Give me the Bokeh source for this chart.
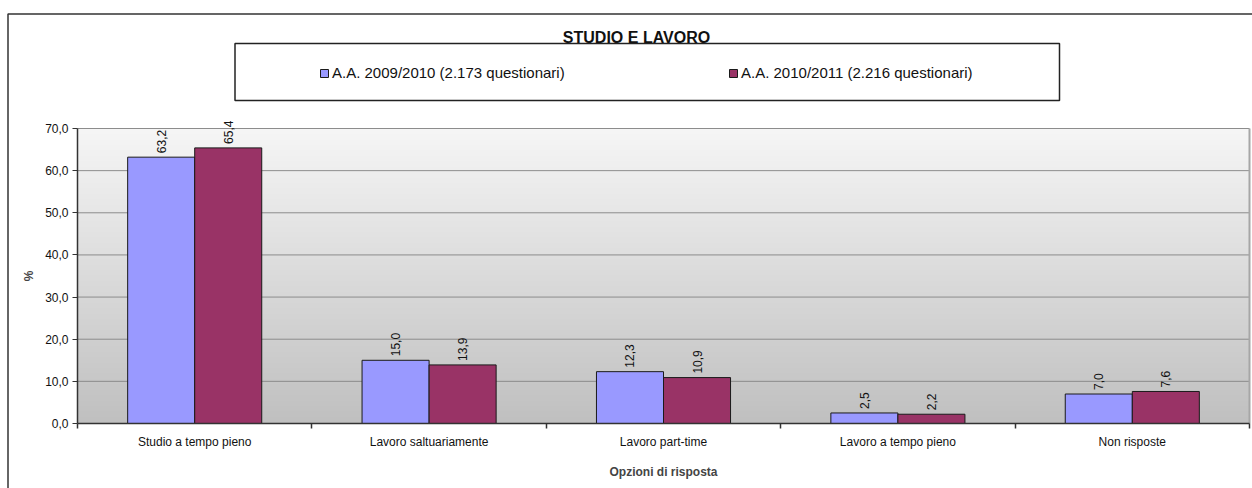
import numpy as np
from bokeh.plotting import figure
from bokeh.models import (ColumnDataSource, FixedTicker, LabelSet, Label, Legend,
                          LegendItem, BoxAnnotation, Range1d)
from bokeh.embed import file_html
from bokeh.resources import INLINE
from bokeh.core.properties import value

categories = ["Studio a tempo pieno", "Lavoro saltuariamente", "Lavoro part-time",
              "Lavoro a tempo pieno", "Non risposte"]
series_names = ["A.A. 2009/2010 (2.173 questionari)", "A.A. 2010/2011 (2.216 questionari)"]
values_2009 = [63.2, 15.0, 12.3, 2.5, 7.0]
values_2010 = [65.4, 13.9, 10.9, 2.2, 7.6]
y_ticks = [0, 10, 20, 30, 40, 50, 60, 70]
title_text = "STUDIO E LAVORO"
x_title = "Opzioni di risposta"
y_title = "%"

FONT = "Liberation Sans"
W, H = 1252, 488
BAR_W = 0.286
# plot-area placement on the canvas (pixels)
PX_LEFT, PX_RIGHT, PX_TOP, PX_BOTTOM = 77, 1249, 128, 423
N = len(categories)
Y_MAX = y_ticks[-1]
sx = (PX_RIGHT - PX_LEFT) / N
sy = (PX_BOTTOM - PX_TOP) / Y_MAX

def fmt(v):
    return f"{v:.1f}".replace(".", ",")

p = figure(width=W, height=H, output_backend="svg", toolbar_location=None,
           x_range=Range1d(-PX_LEFT / sx, (W - PX_LEFT) / sx),
           y_range=Range1d(-(H - PX_BOTTOM) / sy, PX_BOTTOM / sy),
           min_border=0)
p.border_fill_color = "white"
p.background_fill_color = "white"
p.outline_line_color = None
p.xgrid.visible = False
p.ygrid.visible = False

# gradient background of plot area
n = 256
t = np.linspace(0, 1, n)[:, None]
bottom_c = np.array([192, 192, 192])
top_c = np.array([246, 246, 246])
cols = (bottom_c + (top_c - bottom_c) * t).astype(np.uint8)
img = np.empty((n, 1), dtype=np.uint32)
view = img.view(dtype=np.uint8).reshape((n, 1, 4))
view[:, 0, 0] = cols[:, 0]
view[:, 0, 1] = cols[:, 1]
view[:, 0, 2] = cols[:, 2]
view[:, 0, 3] = 255
p.image_rgba(image=[img], x=0, y=0, dw=N, dh=Y_MAX, level="image")

# grid lines and plot-area border
gl = y_ticks[1:]
p.segment(x0=[0] * len(gl), x1=[N] * len(gl), y0=gl, y1=gl,
          line_color="#8c8c8c", line_width=1)
p.segment(x0=[N], x1=[N], y0=[0], y1=[Y_MAX], line_color="#a6a6a6", line_width=2)

centers = [i + 0.5 for i in range(N)]
src1 = ColumnDataSource(dict(x=[c - BAR_W / 2 for c in centers], top=values_2009,
                             label=[fmt(v) for v in values_2009]))
src2 = ColumnDataSource(dict(x=[c + BAR_W / 2 for c in centers], top=values_2010,
                             label=[fmt(v) for v in values_2010]))
r1 = p.vbar(x="x", top="top", width=BAR_W, source=src1, fill_color="#9999FF",
            line_color="#1a1a1a", line_width=1)
r2 = p.vbar(x="x", top="top", width=BAR_W, source=src2, fill_color="#993366",
            line_color="#1a1a1a", line_width=1)

for s in (src1, src2):
    p.add_layout(LabelSet(x="x", y="top", text="label", source=s, angle=np.pi / 2,
                          text_align="left", text_baseline="middle", y_offset=4,
                          text_font=value(FONT), text_font_size="12px",
                          text_color="#111111"))

# y axis
ya = p.yaxis[0]
ya.fixed_location = 0
ya.bounds = (0, Y_MAX)
ya.ticker = FixedTicker(ticks=y_ticks)
ya.major_label_overrides = {t: fmt(t) for t in y_ticks}
ya.major_label_text_font = FONT
ya.major_label_text_font_size = "12px"
ya.major_label_text_color = "#111111"
ya.major_tick_out = 5
ya.major_tick_in = 0
ya.major_label_standoff = 4
ya.minor_tick_line_color = None
ya.axis_line_color = "#333333"
ya.axis_line_width = 1.5
ya.major_tick_line_color = "#333333"
ya.axis_label = y_title
ya.axis_label_text_font = FONT
ya.axis_label_text_font_style = "bold"
ya.axis_label_text_font_size = "12px"
ya.axis_label_standoff = 6

# x axis
xa = p.xaxis[0]
xa.fixed_location = 0
xa.bounds = (0, N)
xa.ticker = FixedTicker(ticks=centers, minor_ticks=list(range(N + 1)))
xa.major_label_overrides = {c: cat for c, cat in zip(centers, categories)}
xa.major_label_text_font = FONT
xa.major_label_text_font_size = "12px"
xa.major_label_text_color = "#111111"
xa.major_tick_line_color = None
xa.major_tick_out = 0
xa.major_tick_in = 0
xa.major_label_standoff = 6
xa.minor_tick_out = 5
xa.minor_tick_in = 0
xa.minor_tick_line_color = "#333333"
xa.minor_tick_line_width = 1.5
xa.axis_line_color = "#333333"
xa.axis_line_width = 1.5
xa.axis_label = x_title
xa.axis_label_text_font = FONT
xa.axis_label_text_font_style = "bold"
xa.axis_label_text_font_size = "12px"
xa.axis_label_standoff = 13

# legend
legend = Legend(items=[LegendItem(label=series_names[0], renderers=[r1]),
                       LegendItem(label=series_names[1], renderers=[r2])],
                orientation="horizontal", location=(319, H - 81), padding=0, margin=0,
                spacing=156, label_width=240, label_height=10,
                glyph_width=10, glyph_height=10,
                label_standoff=3, border_line_alpha=0, background_fill_alpha=0,
                label_text_font=FONT, label_text_font_size="15px",
                label_text_color="#111111")
p.add_layout(legend)

# legend box
p.add_layout(BoxAnnotation(left=234.5, right=1059, top=43, bottom=100,
                           left_units="canvas", right_units="canvas",
                           top_units="canvas", bottom_units="canvas",
                           fill_alpha=0, line_color="#222222", line_alpha=1,
                           line_width=1.5, level="overlay"))
# outer frame (only left and top edges fall inside the canvas)
p.add_layout(BoxAnnotation(left=7.5, right=W + 50, top=13.5, bottom=H + 50,
                           left_units="canvas", right_units="canvas",
                           top_units="canvas", bottom_units="canvas",
                           fill_alpha=0, line_color="#333333", line_alpha=1,
                           line_width=1.5, level="overlay"))

# title
p.add_layout(Label(x=636, y=37, x_units="canvas", y_units="canvas", text=title_text,
                   text_align="center", text_baseline="middle",
                   text_font=FONT, text_font_style="bold",
                   text_font_size="16px", text_color="#111111"))

open("out.html", "w").write(file_html(p, INLINE))
